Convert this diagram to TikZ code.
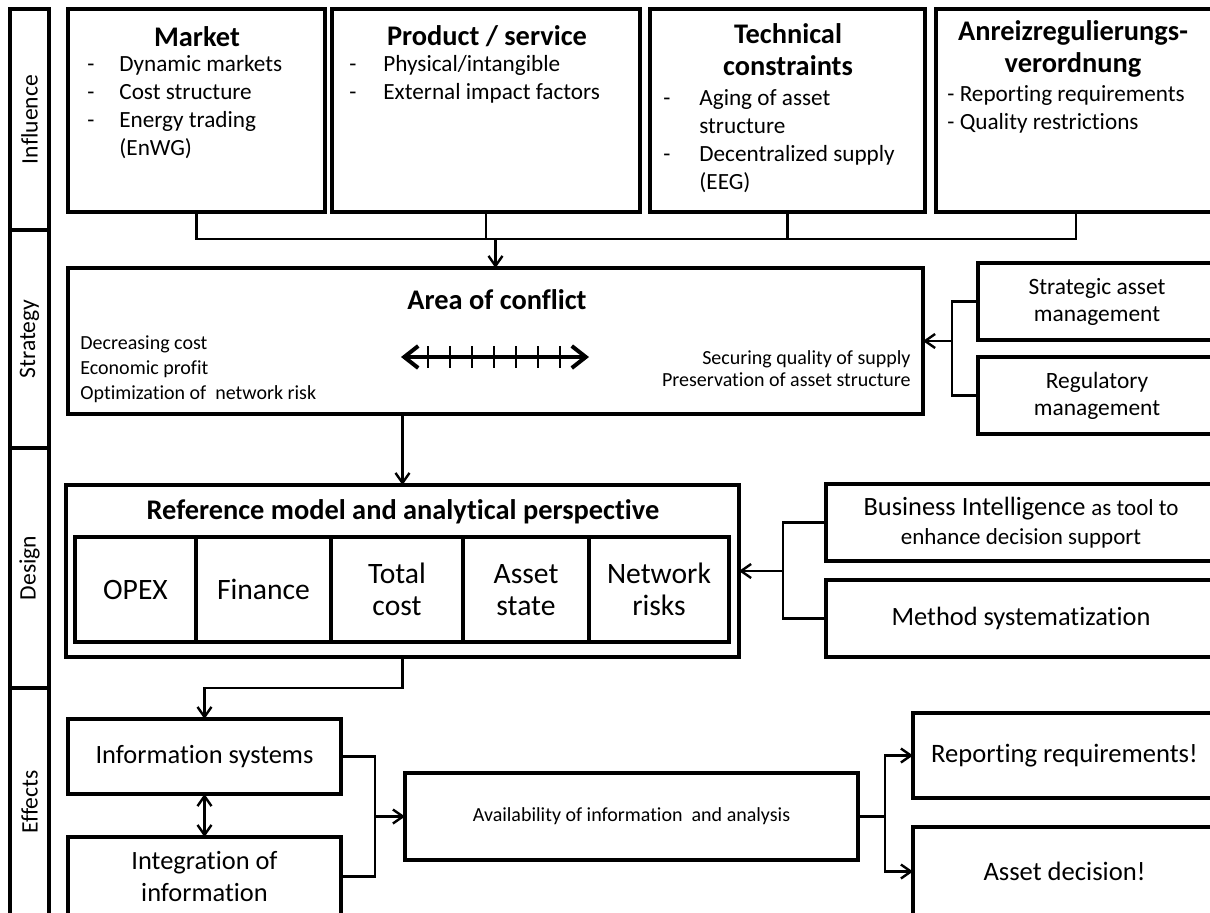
\documentclass[tikz,border=0pt]{standalone}
\usepackage{fontspec}
\setmainfont{Carlito}[Ligatures=NoCommon]
\usetikzlibrary{arrows.meta,positioning,calc}
\newcommand{\fsz}[2]{\fontsize{#1}{#2}\selectfont}

\begin{document}
\begin{tikzpicture}[
  x=0.5pt, y=-0.5pt,
  box/.style={draw, line width=1.6pt, inner sep=0pt, outer sep=0pt, anchor=north west, align=center},
  cell/.style={box, minimum height=52.5pt, font=\fsz{14.8}{16}},
  side/.style={draw, line width=1.6pt, inner sep=0pt, rotate=90, minimum height=19.5pt, font=\fsz{11.8}{13}},
  head/.style={align=center, inner sep=0pt, font=\fsz{14.2}{16}\bfseries},
  list/.style={inner sep=0pt, anchor=west, font=\fsz{11.6}{14}},
  note/.style={inner sep=0pt, font=\fsz{10}{12.5}},
  link/.style={line width=1.2pt},
  arr/.style={line width=1.2pt, -{Straight Barb[length=5pt,width=7pt]}},
  twoway/.style={line width=1.2pt, {Straight Barb[length=5pt,width=7pt]}-{Straight Barb[length=5pt,width=7pt]}},
  scalearr/.style={line width=2pt, {Straight Barb[length=7pt,width=11pt]}-{Straight Barb[length=7pt,width=11pt]}}
]
\useasboundingbox (0,0) rectangle (1210,912);
\clip (0,0) rectangle (1210,912);

\node[side, minimum width=110.5pt] (sinfl) at (29.5,119.5) {Influence};
\node[side, minimum width=109pt] (sstrat) at (29.5,339) {Strategy};
\node[side, minimum width=120pt] (sdesign) at (29.5,568) {Design};
\node[side, minimum width=114pt] (seffects) at (29.5,802) {Effects};

\node[box, minimum width=128.5pt, minimum height=101.5pt] (market) at (68,9) {};
\node[box, minimum width=154pt, minimum height=101.5pt] (product) at (332,9) {};
\node[box, minimum width=137.5pt, minimum height=101.5pt] (tech) at (650,9) {};
\node[box, minimum width=140pt, minimum height=101.5pt] (anreiz) at (936,9) {};

\node[head] (markett) at (197,37) {Market};
\node[list] (marketl) at (87,108) {\begin{tabular}{@{}p{16pt}@{}l@{}}-&Dynamic markets\\-&Cost structure\\-&Energy trading\\&(EnWG)\end{tabular}};
\node[head] (productt) at (487,36) {Product / service};
\node[list] (productl) at (349,80) {\begin{tabular}{@{}p{17pt}@{}l@{}}-&Physical/intangible\\-&External impact factors\end{tabular}};
\node[head] (techt) at (788,50) {Technical\\constraints};
\node[list] (techl) at (663,142) {\begin{tabular}{@{}p{18pt}@{}l@{}}-&Aging of asset\\&structure\\-&Decentralized supply\\&(EEG)\end{tabular}};
\node[head] (anreizt) at (1073,49) {Anreizregulierungs-\\verordnung};
\node[list] (anreizl) at (947,110) {\begin{tabular}{@{}l@{}}- Reporting requirements\\- Quality restrictions\end{tabular}};

\node[box, minimum width=427.5pt, minimum height=73pt] (conflict) at (68,268) {};
\node[head] (conflictt) at (497,300) {Area of conflict};
\node[note, anchor=west, align=left] (costs) at (80,369) {Decreasing cost\\Economic profit\\Optimization of~ network risk};
\node[note, anchor=east, align=right, font=\fsz{10}{11}] (quality) at (911,369) {Securing quality of supply\\Preservation of asset structure};
\coordinate (lo) at (401,357);
\coordinate (hi) at (589,357);
\draw[scalearr] (lo) -- (hi);
\foreach \t in {0,...,6}
  \draw[line width=0.9pt] ($(lo)+({27+22*\t},-11)$) -- ++(0,22);

\coordinate (bus) at ($(conflict.north)+(0,-29)$);
\draw[link] (market.south) |- (bus) -| (anreiz.south);
\draw[link] (product.south) -- (product.south |- bus);
\draw[link] (tech.south) -- (tech.south |- bus);
\draw[arr] (bus) -- (conflict.north);

\node[box, minimum width=119pt, minimum height=38.5pt, font=\fsz{11.7}{13.5}] (sam) at (978,263) {Strategic asset\\management};
\node[box, minimum width=119pt, minimum height=38.5pt, font=\fsz{11.7}{13.5}] (regm) at (978,357) {Regulatory\\management};
\coordinate (sj) at ($(conflict.east)+(29,0)$);
\draw[link] (sam.west) -| (sj) |- (regm.west);
\draw[arr] (sj) -- (conflict.east);

\node[box, minimum width=336.5pt, minimum height=86pt] (ref) at (66,485) {};
\node[head] (reft) at (403,512) {Reference model and analytical perspective};
\node[cell, minimum width=60.5pt] (opex) at (75,537) {OPEX};
\node[cell, minimum width=67.5pt] (fin) at (opex.north east) {Finance};
\node[cell, minimum width=66pt] (total) at (fin.north east) {Total\\cost};
\node[cell, minimum width=63pt] (state) at (total.north east) {Asset\vphantom{l}\\state};
\node[cell, minimum width=70pt] (risks) at (state.north east) {Network\\risks};
\draw[arr] (conflict.south -| ref.north) -- (ref.north);

\node[box, minimum width=195pt, minimum height=38.5pt, font=\fsz{13.2}{14.5}] (bi) at (826,484) {Business Intelligence {\fsz{11.5}{14.5}as tool to}\\{\fsz{11.5}{14.5}enhance decision support}};
\node[box, minimum width=195pt, minimum height=38.5pt, font=\fsz{13.2}{15}] (meth) at (826,580) {Method systematization};
\coordinate (dj) at ($(ref.east)+(44,0)$);
\draw[link] (bi.west) -| (dj) |- (meth.west);
\draw[arr] (dj) -- (ref.east);

\node[box, minimum width=136.5pt, minimum height=37.5pt, font=\fsz{13.2}{16}] (info) at (68,719) {Information systems};
\node[box, minimum width=136.5pt, minimum height=39.5pt, font=\fsz{13.2}{16}] (integ) at (68,837) {Integration of\\information};
\draw[arr] (ref.south) -- ++(0,31) -| (info.north);
\draw[twoway] (info.south) -- (integ.north);

\node[box, minimum width=226.5pt, minimum height=43.5pt, font=\fsz{10}{12}] (avail) at (405,773) {Availability of information~ and analysis};
\coordinate (ej) at ($(avail.west)+(-30,0)$);
\draw[link] (info.east) -| (ej) |- (integ.east);
\draw[arr] (ej) -- (avail.west);

\node[box, minimum width=151.5pt, minimum height=42.5pt, font=\fsz{13.3}{15}] (report) at (913,713) {Reporting requirements!};
\node[box, minimum width=151.5pt, minimum height=44.5pt, font=\fsz{13.3}{15}] (decision) at (913,827) {Asset decision!};
\coordinate (fj) at ($(avail.east)+(27,0)$);
\draw[link] (avail.east) -- (fj);
\draw[arr] (fj) |- (report.west);
\draw[arr] (fj) |- (decision.west);
\end{tikzpicture}
\end{document}
